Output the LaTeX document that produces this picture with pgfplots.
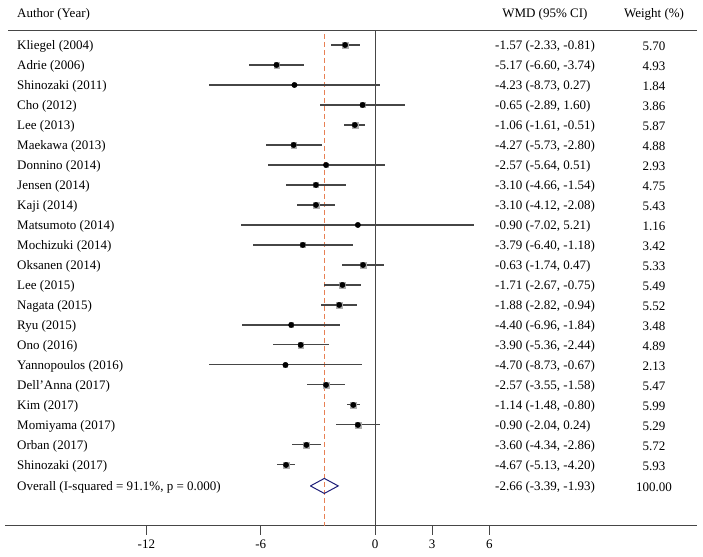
\documentclass[border=0pt]{standalone}
\usepackage{pgfplots}
\pgfplotsset{compat=1.18}
\usepackage{pgfplotstable}
\usepackage{fontspec}
\setmainfont{Liberation Serif}
\definecolor{dashor}{RGB}{232,128,84}
\definecolor{navyd}{RGB}{30,30,120}
\definecolor{lineg}{RGB}{70,70,70}
\definecolor{boxg}{RGB}{175,175,175}
\pgfplotstableread{
y est lo hi w
-45 -1.57 -2.33 -0.81 5.70
-65 -5.17 -6.60 -3.74 4.93
-85 -4.23 -8.73 0.27 1.84
-105 -0.65 -2.89 1.60 3.86
-125 -1.06 -1.61 -0.51 5.87
-145 -4.27 -5.73 -2.80 4.88
-165 -2.57 -5.64 0.51 2.93
-185 -3.10 -4.66 -1.54 4.75
-205 -3.10 -4.12 -2.08 5.43
-225 -0.90 -7.02 5.21 1.16
-245 -3.79 -6.40 -1.18 3.42
-265 -0.63 -1.74 0.47 5.33
-285 -1.71 -2.67 -0.75 5.49
-305 -1.88 -2.82 -0.94 5.52
-325 -4.40 -6.96 -1.84 3.48
-345 -3.90 -5.36 -2.44 4.89
-365 -4.70 -8.73 -0.67 2.13
-385 -2.57 -3.55 -1.58 5.47
-405 -1.14 -1.48 -0.80 5.99
-425 -0.90 -2.04 0.24 5.29
-445 -3.60 -4.34 -2.86 5.72
-465 -4.67 -5.13 -4.20 5.93
}\studies
\newcommand\tf{\fontsize{13}{15}\selectfont}
\newcommand\row[4]{%
  \node[anchor=west,inner sep=0pt] at (axis cs:-18.79,#1) {\tf #2};
  \node[anchor=west,inner sep=0pt] at (axis cs:6.30,#1) {\tf #3};
  \node[inner sep=0pt] at (axis cs:14.65,#1) {\tf #4};
}
\begin{document}
\begin{tikzpicture}
\begin{axis}[
  scale only axis, width=692pt, height=495pt,
  xmin=-19.42, xmax=16.90, ymin=-526, ymax=-31,
  axis x line*=bottom, axis y line=none,
  axis line style={lineg, line width=1pt},
  xtick={-12,-6,0,3,6},
  tick align=outside, major tick length=9pt,
  tick style={lineg, line width=0.8pt},
  xticklabel style={font=\tf, yshift=-1pt},
  /pgf/number format/assume math mode=true,
  clip=false,
]
% bounding box of the whole figure
\path (axis cs:-19.685,0) rectangle (axis cs:17.218,-557);
% top rule
\draw[lineg, line width=1pt] (axis cs:-19.26,-31) -- (axis cs:16.90,-31);
% null line and overall line
\draw[lineg, line width=1pt] (axis cs:0,-31) -- (axis cs:0,-526);
\draw[dashor, line width=1pt, dash pattern=on 5pt off 3pt] (axis cs:-2.66,-34) -- (axis cs:-2.66,-526);
% CIs
\addplot[only marks, mark=none, error bars/.cd, x dir=both, x explicit,
  error mark=none, error bar style={line width=1.1pt, lineg}]
  table[x=est, y=y, x error plus expr=\thisrow{hi}-\thisrow{est},
        x error minus expr=\thisrow{est}-\thisrow{lo}] {\studies};
% weight boxes
\addplot[only marks, mark=square*, color=boxg, mark options={draw=boxg, fill=boxg},
  scatter, scatter/use mapped color={draw=boxg, fill=boxg},
  visualization depends on={1.25*sqrt(\thisrow{w}) \as \ms},
  scatter/@pre marker code/.append style={/tikz/mark size=\ms}]
  table[x=est, y=y] {\studies};
% point estimates
\addplot[only marks, mark=*, mark size=2.7pt, black] table[x=est, y=y] {\studies};
% overall diamond
\addplot[navyd, line width=1pt] coordinates {(-3.39,-486) (-2.66,-478.5) (-1.93,-486) (-2.66,-493.5) (-3.39,-486)};
% headers
\node[anchor=west,inner sep=0pt] at (axis cs:-18.79,-14) {\tf Author (Year)};
\node[anchor=west,inner sep=0pt] at (axis cs:6.67,-14) {\tf WMD (95\% CI)};
\node[inner sep=0pt] at (axis cs:14.65,-14) {\tf Weight (\%)};
% rows
\row{-46}{Kliegel (2004)}{-1.57 (-2.33, -0.81)}{5.70}
\row{-66}{Adrie (2006)}{-5.17 (-6.60, -3.74)}{4.93}
\row{-86}{Shinozaki (2011)}{-4.23 (-8.73, 0.27)}{1.84}
\row{-106}{Cho (2012)}{-0.65 (-2.89, 1.60)}{3.86}
\row{-126}{Lee (2013)}{-1.06 (-1.61, -0.51)}{5.87}
\row{-146}{Maekawa (2013)}{-4.27 (-5.73, -2.80)}{4.88}
\row{-166}{Donnino (2014)}{-2.57 (-5.64, 0.51)}{2.93}
\row{-186}{Jensen (2014)}{-3.10 (-4.66, -1.54)}{4.75}
\row{-206}{Kaji (2014)}{-3.10 (-4.12, -2.08)}{5.43}
\row{-226}{Matsumoto (2014)}{-0.90 (-7.02, 5.21)}{1.16}
\row{-246}{Mochizuki (2014)}{-3.79 (-6.40, -1.18)}{3.42}
\row{-266}{Oksanen (2014)}{-0.63 (-1.74, 0.47)}{5.33}
\row{-286}{Lee (2015)}{-1.71 (-2.67, -0.75)}{5.49}
\row{-306}{Nagata (2015)}{-1.88 (-2.82, -0.94)}{5.52}
\row{-326}{Ryu (2015)}{-4.40 (-6.96, -1.84)}{3.48}
\row{-346}{Ono (2016)}{-3.90 (-5.36, -2.44)}{4.89}
\row{-366}{Yannopoulos (2016)}{-4.70 (-8.73, -0.67)}{2.13}
\row{-386}{Dell'Anna (2017)}{-2.57 (-3.55, -1.58)}{5.47}
\row{-406}{Kim (2017)}{-1.14 (-1.48, -0.80)}{5.99}
\row{-426}{Momiyama (2017)}{-0.90 (-2.04, 0.24)}{5.29}
\row{-446}{Orban (2017)}{-3.60 (-4.34, -2.86)}{5.72}
\row{-466}{Shinozaki (2017)}{-4.67 (-5.13, -4.20)}{5.93}
\row{-487}{Overall (I-squared = 91.1\%, p = 0.000)}{-2.66 (-3.39, -1.93)}{100.00}
\end{axis}
\end{tikzpicture}
\end{document}
